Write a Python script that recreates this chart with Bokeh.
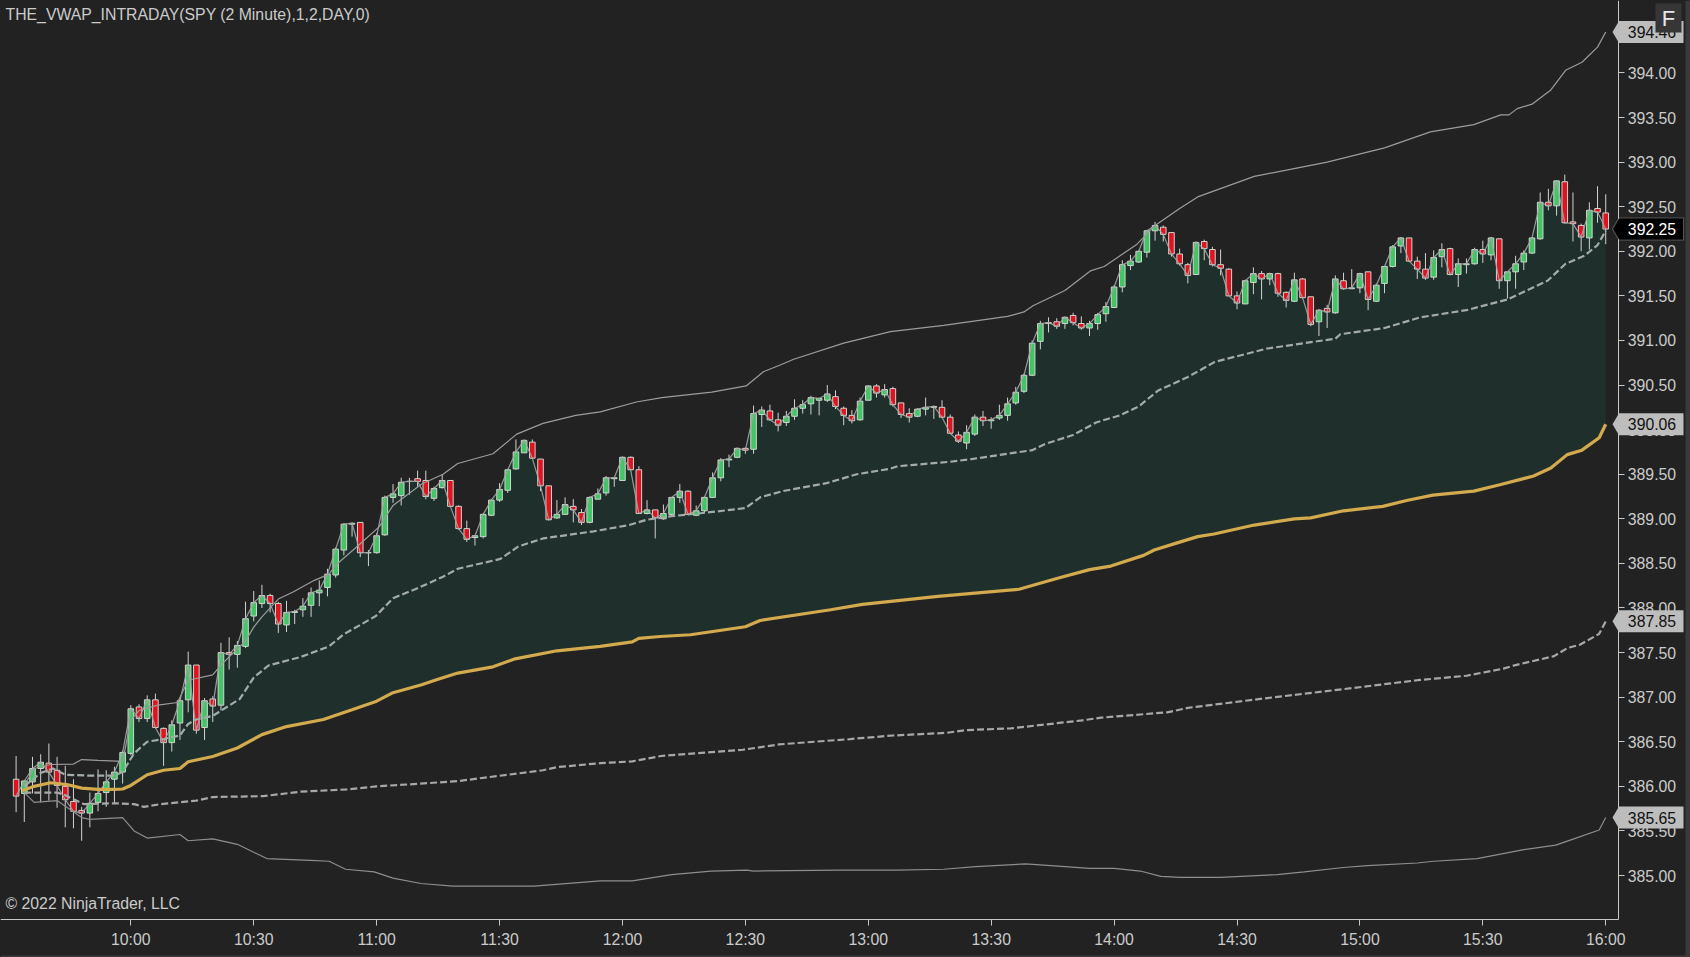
from bokeh.plotting import figure
from bokeh.models import (ColumnDataSource, FixedTicker, Label, PolyAnnotation, BoxAnnotation, Range1d)
from bokeh.embed import file_html
from bokeh.resources import INLINE

# ---------- candles: one value per 2-minute bar, 09:32 ... 16:00 ----------
opens = [
386.08,385.92,386.05,386.20,386.26,386.18,386.00,385.83,385.73,385.70,
385.82,385.93,386.08,386.16,386.37,386.89,386.76,386.97,386.65,386.49,
386.71,386.97,387.36,386.66,386.98,386.91,387.50,387.48,387.57,387.91,
388.05,388.14,388.05,387.81,387.95,387.98,388.03,388.17,388.23,388.37,
388.65,388.94,388.96,388.62,388.62,388.82,389.24,389.26,389.42,389.45,
389.43,389.23,389.35,389.43,389.14,388.89,388.79,388.80,389.04,389.21,
389.32,389.56,389.74,389.86,389.67,389.37,389.01,389.05,389.14,389.07,
388.96,389.22,389.29,389.45,389.43,389.69,389.55,389.06,389.10,389.00,
389.05,389.24,389.31,389.04,389.09,389.24,389.46,389.66,389.69,389.79,
389.78,390.17,390.21,390.11,390.08,390.15,390.24,390.29,390.33,390.33,
390.37,390.24,390.16,390.11,390.33,390.49,390.39,390.46,390.30,390.18,
390.15,390.23,390.25,390.25,390.14,389.94,389.85,389.95,390.14,390.10,
390.13,390.16,390.30,390.43,390.61,390.99,391.19,391.21,391.19,391.28,
391.19,391.14,391.19,391.30,391.37,391.60,391.84,391.88,391.99,392.23,
392.27,392.21,391.97,391.85,391.74,392.11,392.02,391.85,391.80,391.50,
391.41,391.65,391.75,391.69,391.75,391.54,391.44,391.69,391.49,391.21,
391.36,391.31,391.67,391.58,391.59,391.77,391.44,391.64,391.83,392.06,
392.15,391.89,391.80,391.71,391.94,392.03,391.74,391.85,391.86,392.02,
391.96,392.14,391.67,391.77,391.88,391.98,392.14,392.55,392.51,392.78,
392.33,392.29,392.15,392.48,392.43]
highs = [
386.34,386.07,386.33,386.36,386.48,386.33,386.23,386.08,385.77,385.93,
386.19,386.18,386.22,386.40,386.91,386.92,387.02,387.04,386.66,386.74,
386.99,387.51,387.36,386.99,387.01,387.61,387.67,387.63,388.07,388.19,
388.26,388.16,388.07,388.08,387.98,388.11,388.23,388.31,388.44,388.68,
388.95,388.96,388.96,388.65,388.84,389.26,389.39,389.46,389.46,389.54,
389.54,389.36,389.50,389.43,389.15,388.98,388.81,389.06,389.22,389.40,
389.56,389.89,389.89,389.89,389.67,389.37,389.21,389.24,389.22,389.11,
389.25,389.34,389.48,389.46,389.70,389.70,389.59,389.21,389.10,389.16,
389.24,389.39,389.32,389.15,389.25,389.52,389.68,389.72,389.80,389.80,
390.27,390.26,390.28,390.19,390.21,390.34,390.33,390.38,390.35,390.50,
390.44,390.26,390.22,390.36,390.50,390.51,390.51,390.48,390.30,390.24,
390.24,390.36,390.27,390.33,390.17,389.98,390.05,390.17,390.21,390.14,
390.28,390.36,390.48,390.63,391.00,391.22,391.26,391.25,391.27,391.31,
391.27,391.22,391.31,391.43,391.62,391.90,391.96,392.01,392.24,392.33,
392.29,392.21,392.03,391.87,392.11,392.13,392.05,392.02,391.81,391.55,
391.68,391.82,391.78,391.76,391.76,391.55,391.76,391.70,391.49,391.35,
391.40,391.73,391.76,391.80,391.76,391.77,391.64,391.83,392.07,392.16,
392.15,391.94,391.98,392.01,392.09,392.04,391.92,391.92,392.04,392.12,
392.16,392.14,391.77,391.95,392.01,392.16,392.66,392.70,392.79,392.86,
392.66,392.31,392.55,392.73,392.64]
lows = [
385.71,385.60,385.92,385.82,385.84,385.76,385.54,385.53,385.39,385.54,
385.72,385.77,385.81,386.03,386.35,386.72,386.72,386.65,386.23,386.39,
386.52,386.83,386.59,386.52,386.72,386.85,387.31,387.33,387.55,387.85,
388.00,387.95,387.72,387.73,387.82,387.90,387.90,388.02,388.13,388.34,
388.59,388.80,388.57,388.47,388.61,388.81,389.18,389.15,389.27,389.36,
389.22,389.20,389.34,389.13,388.88,388.74,388.70,388.78,389.03,389.19,
389.29,389.55,389.74,389.67,389.31,388.98,389.00,389.05,388.96,388.93,
388.95,389.22,389.26,389.36,389.43,389.54,389.06,389.05,388.78,388.99,
389.04,389.18,389.04,389.03,389.07,389.24,389.42,389.58,389.68,389.73,
389.73,390.03,390.10,389.98,390.04,390.11,390.18,390.17,390.16,390.31,
390.23,390.05,390.07,390.10,390.33,390.36,390.36,390.26,390.13,390.08,
390.14,390.16,390.12,390.13,389.95,389.85,389.78,389.93,390.04,390.01,
390.11,390.10,390.28,390.41,390.60,390.90,391.09,391.13,391.13,391.17,
391.12,391.05,391.12,391.21,391.37,391.54,391.79,391.87,391.93,392.12,
392.11,391.94,391.84,391.64,391.74,391.90,391.83,391.73,391.50,391.35,
391.41,391.52,391.46,391.62,391.49,391.37,391.43,391.47,391.16,391.05,
391.14,391.30,391.57,391.58,391.53,391.34,391.43,391.53,391.82,391.98,
391.88,391.69,391.68,391.68,391.82,391.73,391.60,391.75,391.85,391.87,
391.90,391.58,391.47,391.58,391.79,391.97,392.13,392.46,392.40,392.31,
392.11,392.00,392.02,392.32,392.08]
closes = [
385.89,386.06,386.20,386.27,386.16,386.01,385.85,385.72,385.70,385.81,
385.92,386.05,386.16,386.38,386.87,386.76,386.97,386.66,386.49,386.69,
386.96,387.36,386.63,386.96,386.90,387.50,387.48,387.58,387.88,388.06,
388.14,388.05,387.82,387.95,387.96,388.02,388.17,388.20,388.38,388.66,
388.94,388.95,388.62,388.62,388.81,389.24,389.28,389.41,389.42,389.42,
389.25,389.34,389.43,389.14,388.89,388.77,388.81,389.05,389.21,389.33,
389.55,389.75,389.88,389.68,389.37,388.99,389.05,389.16,389.10,388.96,
389.24,389.28,389.46,389.46,389.69,389.55,389.06,389.10,389.01,389.06,
389.24,389.31,389.05,389.09,389.24,389.46,389.66,389.67,389.79,389.77,
390.18,390.22,390.11,390.05,390.15,390.24,390.28,390.36,390.35,390.40,
390.26,390.16,390.10,390.32,390.49,390.41,390.45,390.28,390.17,390.14,
390.23,390.25,390.26,390.14,389.96,389.87,389.97,390.14,390.10,390.11,
390.16,390.29,390.42,390.61,390.97,391.19,391.20,391.16,391.26,391.20,
391.14,391.19,391.29,391.38,391.60,391.85,391.89,392.00,392.23,392.29,
392.19,391.97,391.86,391.73,392.10,392.03,391.85,391.81,391.50,391.42,
391.67,391.75,391.69,391.75,391.53,391.45,391.68,391.48,391.18,391.34,
391.32,391.69,391.58,391.59,391.75,391.46,391.62,391.83,392.05,392.15,
391.89,391.80,391.70,391.93,392.02,391.74,391.86,391.86,392.02,391.97,
392.15,391.67,391.77,391.86,391.98,392.15,392.55,392.51,392.79,392.32,
392.31,392.16,392.46,392.44,392.25]

bars = list(range(len(closes)))

# ---------- VWAP and bands: readings at selected bars ----------
vwap_at = [0.75,2.2,4.2,6.2,8,10,12,13,14,16,18,20,21,24,27,30,33,37.5,41,44,46,49.5,51.3,53.9,58.2,60.9,66,71.3,75.2,76,78.6,
           82.3,89,90.8,99.4,103.3,112.5,122.4,127,131,133.6,137.6,138.9,141.7,144.2,146.2,151.1,156,158,162,166.8,169.7,172.9,177.9,181.2,185.2,187.3,189.3,191.1,193.2,194]
vwap = [385.95,386.00,386.04,386.02,385.98,385.965,385.965,385.97,386.01,386.13,386.18,386.20,386.275,386.335,386.43,386.58,386.67,386.75,386.86,386.955,387.05,387.14,387.195,387.27,387.34,387.43,387.52,387.57,387.62,387.66,387.68,
        387.70,387.79,387.86,387.98,388.04,388.13,388.21,388.33,388.43,388.47,388.59,388.65,388.73,388.80,388.83,388.93,389.00,389.01,389.09,389.14,389.205,389.265,389.31,389.385,389.48,389.57,389.72,389.77,389.91,390.06]

plus1_at = [1,3,4.5,6,9,12,13,14.4,16,18,20,21,22,24,27.3,29,30.8,34.7,38.2,39.9,43.9,46,48.7,52.1,53.9,59.1,61.3,64.3,70.5,74.8,77,80,84.3,89,90.8,93.5,98.9,102.6,106.6,107.6,114,116.6,124,125.6,129,131.8,133.2,134.7,137,139.4,143,146.3,152.7,161,161.6,167,171.4,177,182,186.9,189.1,191.4,193,194]
plus1 = [386.00,386.15,386.20,386.13,386.12,386.12,386.16,386.37,386.50,386.53,386.57,386.70,386.75,386.79,386.98,387.22,387.355,387.45,387.57,387.70,387.91,388.11,388.21,388.35,388.44,388.55,388.69,388.78,388.86,388.93,388.99,389.03,389.07,389.12,389.24,389.31,389.40,389.50,389.56,389.59,389.64,389.67,389.77,389.84,389.94,390.08,390.12,390.16,390.26,390.44,390.59,390.76,390.91,391.02,391.07,391.14,391.26,391.34,391.46,391.67,391.86,391.95,392.07,392.23]

plus2_at = [1,2.2,4.2,7,8,10,13,14,15,17.3,19.7,21,24,25.1,28,29,30,32,33.8,36.4,38.2,39,42,44.3,46,49.5,52.1,53.9,58.2,61.1,64.3,68.3,71.3,75.7,78.8,84.9,89.1,91.2,93.4,94.9,101,106.7,113.2,121,123,124.1,128,131.1,132.8,136.8,139,142,144.2,151.1,157.2,160,167,172.6,177.9,181.2,182.2,183.2,185,187.3,189.1,191.1,193,194]
plus2 = [386.01,386.20,386.245,386.25,386.30,386.29,386.28,386.74,386.85,386.91,386.94,387.19,387.25,387.37,387.63,387.785,387.90,388.10,388.18,388.31,388.38,388.48,388.72,388.91,389.15,389.39,389.50,389.62,389.73,389.95,390.07,390.16,390.20,390.31,390.36,390.42,390.49,390.65,390.73,390.79,390.97,391.10,391.17,391.27,391.32,391.39,391.56,391.78,391.83,392.08,392.29,392.48,392.61,392.84,392.95,393.00,393.16,393.34,393.42,393.53,393.53,393.60,393.65,393.81,394.03,394.12,394.29,394.46]

minus1_at = [1,5,6,8.3,12,14.4,15.6,17.6,22,24,30.2,34.7,40.4,44,49.4,54,64.3,66,71.3,75.2,78.7,88.7,93.1,101.8,107,113.6,115.8,121.4,130.1,132.4,140.5,143,152.7,162,171,177,181.5,183,187.7,189.3,190.9,193.2,194]
minus1 = [385.93,385.93,385.90,385.80,385.81,385.80,385.77,385.80,385.84,385.88,385.89,385.94,385.965,386.00,386.03,386.06,386.18,386.215,386.26,386.28,386.34,386.41,386.47,386.53,386.57,386.60,386.63,386.65,386.74,386.77,386.83,386.88,386.99,387.09,387.19,387.24,387.32,387.36,387.46,387.55,387.59,387.71,387.85]

minus2_at = [1,2.2,5,8,9,13,14.4,16,20,21,24,27,30.6,35.9,38.2,40.2,43.7,46,49.4,53.3,63.2,71.3,75.2,80,84.8,89.2,90,100.5,107.5,113.2,117.1,123.2,128,131,134,137.2,139.7,142.1,147,153.9,157.2,162,164.9,171,173,178.3,184,187.9,190.1,193.2,194]
minus2 = [385.93,385.82,385.84,385.65,385.63,385.65,385.50,385.42,385.46,385.39,385.41,385.35,385.19,385.17,385.16,385.07,385.04,384.97,384.91,384.88,384.88,384.94,384.94,385.01,385.05,385.06,385.05,385.06,385.06,385.07,385.10,385.13,385.10,385.08,385.08,385.05,384.99,384.98,384.98,385.01,385.04,385.09,385.11,385.14,385.16,385.19,385.29,385.34,385.41,385.51,385.65]

# ---------- axes and labels ----------
price_ticks = [385.0,385.5,386.0,386.5,387.0,387.5,388.0,388.5,389.0,389.5,390.0,390.5,391.0,391.5,392.0,392.5,393.0,393.5,394.0]
time_ticks = [14,29,44,59,74,89,104,119,134,149,164,179,194]
time_labels = ["10:00","10:30","11:00","11:30","12:00","12:30","13:00","13:30","14:00","14:30","15:00","15:30","16:00"]
tag_prices = [394.46,392.25,390.06,387.85,385.65]
tag_fills = ["#bdbdbd","#000000","#bdbdbd","#bdbdbd","#bdbdbd"]
tag_texts = ["#111111","#ffffff","#111111","#111111","#111111"]
title_text = "THE_VWAP_INTRADAY(SPY (2 Minute),1,2,DAY,0)"
copyright_text = "\u00a9 2022 NinjaTrader, LLC"

BG = "#222222"
FONT = "Liberation Sans"
TXT = "#cbcbcb"
FS = "15.8px"
# The frame fills the canvas; both axes sit at fixed places inside it.
X_PER_PX = 1 / 8.194
Y_PER_PX = 1 / 89.17
X0, X1 = -15.6 * X_PER_PX, (1690 - 15.6) * X_PER_PX
Y0, Y1 = 385 - 82 * Y_PER_PX, 385 + 875 * Y_PER_PX
AXIS_X = (1618.3 - 15.6) * X_PER_PX
AXIS_Y = 385 - 44.3 * Y_PER_PX

p = figure(width=1690, height=957, frame_width=1690, frame_height=957,
           output_backend="svg", toolbar_location=None,
           x_range=Range1d(X0, X1), y_range=Range1d(Y0, Y1),
           y_axis_location="right", min_border=0,
           min_border_left=0, min_border_top=0, min_border_right=0, min_border_bottom=0,
           background_fill_color=BG, border_fill_color=BG, outline_line_color=None)
p.grid.visible = False

p.yaxis.ticker = FixedTicker(ticks=price_ticks)
p.yaxis.major_label_overrides = {v: f"{v:.2f}" for v in price_ticks}
p.yaxis.fixed_location = AXIS_X
p.yaxis.bounds = (AXIS_Y, Y1)
p.xaxis.ticker = FixedTicker(ticks=time_ticks)
p.xaxis.major_label_overrides = dict(zip(time_ticks, time_labels))
p.xaxis.fixed_location = AXIS_Y
p.xaxis.bounds = (X0, AXIS_X)
for ax in (p.xaxis[0], p.yaxis[0]):
    ax.axis_line_color = "#c8c8c8"
    ax.major_tick_line_color = "#c8c8c8"
    ax.minor_tick_line_color = None
    ax.major_tick_in = 0
    ax.major_tick_out = 6
    ax.major_label_text_color = TXT
    ax.major_label_text_font = FONT
    ax.major_label_text_font_size = FS
    ax.major_label_standoff = 3
p.xaxis.major_label_standoff = 5

# area between the close and the VWAP
fill_from = 11
fill_x = bars[fill_from:] + [t for t in reversed(vwap_at) if t >= fill_from]
fill_y = closes[fill_from:] + [v for t, v in zip(reversed(vwap_at), reversed(vwap)) if t >= fill_from]
p.patch(fill_x, fill_y, fill_color="#1f2f2b", line_color=None)

# candles
src = ColumnDataSource(dict(
    x=bars, o=opens, h=highs, l=lows, c=closes,
    top=[max(a, b) for a, b in zip(opens, closes)],
    bottom=[min(a, b) for a, b in zip(opens, closes)],
    color=["#43c566" if c >= o else "#e0121f" for o, c in zip(opens, closes)],
))
p.segment("x", "l", "x", "h", source=src, line_color="#d2d2d2", line_width=1)
p.vbar("x", width=0.68, top="top", bottom="bottom", source=src,
       fill_color="color", line_color="#cfd6cf", line_width=1)

# close, bands, VWAP
p.line(bars, closes, line_color="#a6a6a6", line_width=1.2, line_alpha=0.9)
p.line(plus2_at, plus2, line_color="#9c9c9c", line_width=1.2)
p.line(minus2_at, minus2, line_color="#8e8e8e", line_width=1.2)
p.line(plus1_at, plus1, line_color="#a3aca8", line_width=2.2, line_dash=[7, 3])
p.line(minus1_at, minus1, line_color="#a8a8a8", line_width=2.2, line_dash=[7, 3])
p.line(vwap_at, vwap, line_color="#d3aa4e", line_width=3.2)

# price tags on the axis
half_h = 11 * Y_PER_PX
for price, fill, txt in zip(tag_prices, tag_fills, tag_texts):
    p.add_layout(PolyAnnotation(
        xs=[1612, 1618.5, 1683, 1683, 1618.5], xs_units="canvas",
        ys=[price, price + half_h, price + half_h, price - half_h, price - half_h], ys_units="data",
        fill_color=fill, fill_alpha=1,
        line_color="#e4e4e4" if fill == "#000000" else None, line_width=1.2))
    p.add_layout(Label(x=1651.5, y=price, x_units="canvas", y_units="data", text=f"{price:.2f}",
                       text_color=txt, text_font=FONT, text_font_size=FS,
                       text_align="center", text_baseline="middle"))

# texts and chrome
p.add_layout(Label(x=5, y=14, x_units="canvas", y_units="canvas", text=title_text,
                   text_color=TXT, text_font=FONT, text_font_size=FS, text_baseline="middle"))
p.add_layout(Label(x=5, y=903, x_units="canvas", y_units="canvas", text=copyright_text,
                   text_color=TXT, text_font=FONT, text_font_size=FS, text_baseline="middle"))
p.add_layout(BoxAnnotation(left=1655, right=1681, top=3, bottom=32, left_units="canvas", right_units="canvas",
                           top_units="canvas", bottom_units="canvas", fill_color="#363636", fill_alpha=1,
                           line_color=None, level="overlay"))
p.add_layout(Label(x=1668, y=18, x_units="canvas", y_units="canvas", text="F", text_color="#e6e6ef",
                   text_font=FONT, text_font_size="22px", text_align="center", text_baseline="middle", level="overlay"))
p.add_layout(BoxAnnotation(left=1685, right=1690, top=0, bottom=957, left_units="canvas", right_units="canvas",
                           top_units="canvas", bottom_units="canvas", fill_color="#3a3a3a", fill_alpha=1, line_color=None))
p.add_layout(BoxAnnotation(left=0, right=1690, top=955, bottom=957, left_units="canvas", right_units="canvas",
                           top_units="canvas", bottom_units="canvas", fill_color="#3a3a3a", fill_alpha=1, line_color=None))

template = """{% block postamble %}<style>html,body{margin:0;padding:0;background:#222222;overflow:hidden}</style>{% endblock %}
"""
open("out.html", "w").write(file_html(p, INLINE, template=template))
